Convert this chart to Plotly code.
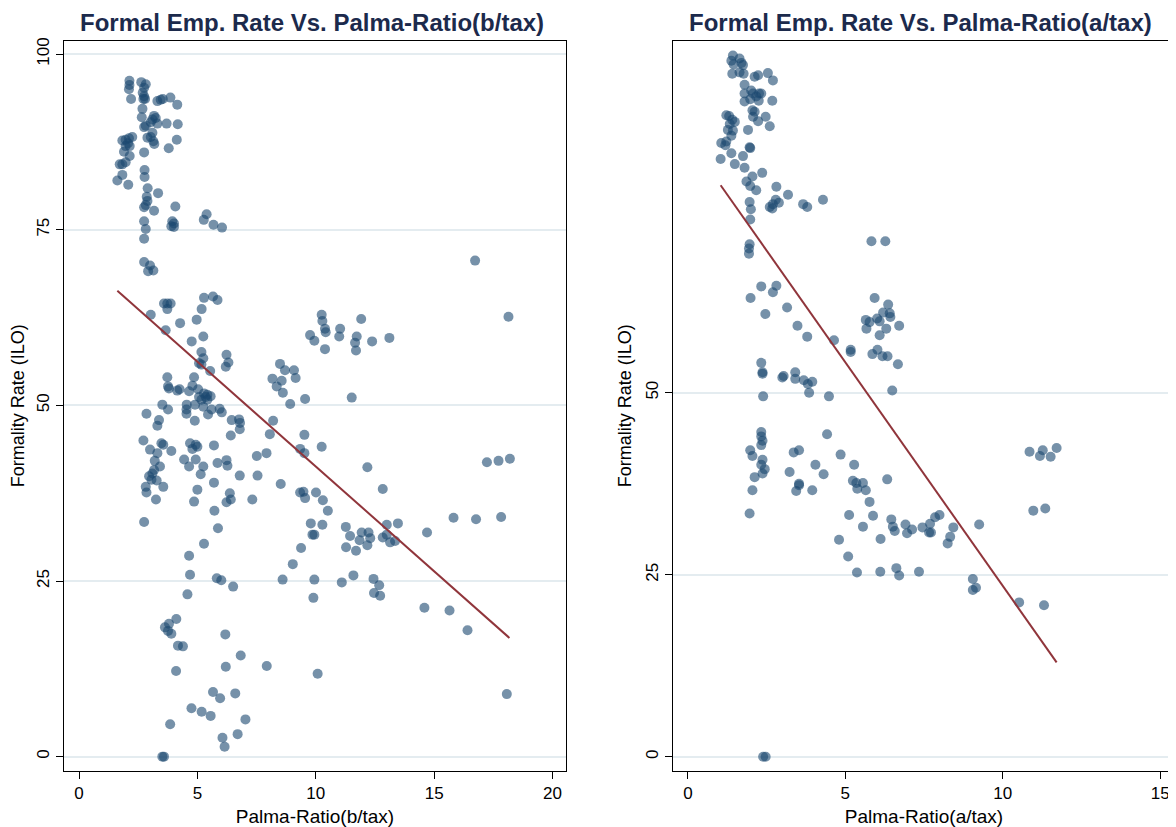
import plotly.graph_objects as go

# ---------------- data ----------------
left_x = [2.13, 2.13, 2.11, 2.20, 2.63, 2.82, 2.75, 2.69, 2.75, 2.79, 2.72, 3.31, 3.45, 3.54, 3.86, 4.15,
          2.68, 2.65, 3.17, 3.24, 3.10, 3.03, 2.82, 2.75, 3.31, 3.70, 4.17, 3.10, 3.03, 2.89, 3.14, 3.18,
          4.13, 3.79, 1.83, 1.97, 2.11, 2.25, 2.07, 2.14, 1.97, 1.90, 2.14, 2.75, 1.72, 1.83, 1.97, 1.83,
          1.62, 2.08, 2.77, 2.77, 2.90, 3.34, 2.86, 2.89, 2.82, 2.75, 3.17, 4.07, 2.75, 2.82, 2.75, 3.94,
          4.01, 3.90, 4.01, 5.39, 5.27, 5.68, 6.04, 2.75, 3.00, 2.92, 3.14,
          3.59, 3.73, 3.87, 3.73, 5.28, 5.66, 5.85, 3.03, 5.18, 4.27, 4.97, 3.66, 4.76, 5.25, 5.17, 5.25,
          5.07, 5.17, 6.23, 6.31, 6.20, 5.54, 3.73, 3.76, 3.80, 4.15, 4.25, 4.86, 4.79, 4.65, 5.03, 5.28,
          5.42, 5.56, 5.07, 5.17, 5.42, 5.35, 3.52, 3.76, 4.55, 4.54, 4.54, 4.90, 5.25, 5.60, 5.94, 6.03,
          5.45, 2.85, 3.38, 3.31, 4.89, 6.45, 6.76, 6.80, 6.79, 6.41, 8.20, 8.06, 2.72, 3.00, 3.48, 3.56,
          3.90, 3.31, 3.20, 3.42, 3.17, 3.10, 2.96, 3.06, 3.28, 2.82, 2.85, 3.56, 3.25, 4.69, 4.79, 4.93,
          5.00, 5.70, 4.44, 4.65, 4.93, 5.25, 5.14, 5.85, 6.23, 6.27, 6.79, 7.54, 7.51, 7.92, 8.52, 5.70,
          5.00, 4.86, 6.37, 6.41, 6.23, 7.32, 5.72, 2.75, 5.87,
          5.28, 4.65, 4.69, 5.82, 6.01, 6.51, 8.60, 4.58, 4.11, 3.80, 3.63, 3.76, 3.90, 4.18, 4.39, 6.18,
          6.83, 6.20, 7.93, 4.10, 5.66, 5.96, 6.60, 4.75, 5.18, 5.56, 3.85, 7.03, 6.06, 6.70, 6.15, 3.52,
          3.59,
          16.73, 18.14, 10.25, 10.28, 10.39, 10.42, 10.39, 9.76, 9.94, 11.92, 11.03, 10.99, 11.73, 11.66,
          11.70, 12.38, 13.11, 8.49, 8.70, 9.08, 9.15, 8.56, 8.61, 8.92, 9.55, 11.52, 9.52, 9.34, 9.52,
          10.25, 12.18, 12.83, 17.23, 17.72, 18.20, 9.34, 9.48, 9.55, 10.01, 10.30, 10.51, 9.79, 10.28,
          11.27, 13.00, 13.47, 15.82, 16.77, 17.83, 8.17, 8.35,
          9.86, 9.94, 11.45, 11.94, 12.23, 12.30, 12.18, 11.85, 11.28, 11.70, 12.83, 13.00, 13.14, 13.35,
          14.70, 9.38, 9.03, 9.94, 11.10, 11.59, 12.44, 12.68, 12.46, 12.72, 9.90, 14.59, 15.65, 16.41,
          10.08, 18.07]
left_y = [96.2, 95.6, 95.0, 93.6, 96.0, 95.7, 95.2, 94.5, 94.0, 93.6, 93.6, 93.3, 93.5, 93.6, 93.8, 92.8,
          92.2, 91.0, 91.2, 90.9, 90.7, 90.3, 89.8, 89.6, 90.1, 90.1, 90.0, 88.8, 88.2, 88.1, 87.6, 87.2,
          87.8, 86.6, 87.7, 87.8, 88.0, 88.2, 87.3, 86.9, 86.9, 86.1, 85.5, 86.0, 84.3, 84.3, 84.6, 82.8,
          82.0, 81.4, 83.5, 82.5, 80.9, 80.2, 79.7, 79.1, 78.5, 78.2, 77.7, 78.3, 76.2, 75.1, 73.7, 76.2,
          75.9, 75.5, 75.4, 77.2, 76.4, 75.7, 75.3, 70.4, 69.9, 69.1, 69.2,
          64.5, 64.5, 64.5, 63.7, 65.3, 65.5, 65.0, 62.9, 63.7, 61.7, 62.2, 60.7, 59.1, 59.8, 57.6, 56.7,
          56.0, 55.8, 57.2, 56.1, 55.5, 54.9, 54.0, 52.7, 52.4, 52.1, 52.3, 54.0, 52.8, 52.0, 52.3, 51.7,
          51.5, 51.3, 51.2, 50.8, 50.8, 51.2, 50.1, 49.4, 50.1, 49.4, 48.8, 50.1, 49.8, 49.4, 49.5, 49.0,
          48.7, 48.8, 47.9, 47.1, 47.8, 47.9, 48.0, 47.5, 46.6, 45.7, 47.8, 45.9, 45.0, 43.7, 44.6, 44.4,
          43.5, 43.2, 42.1, 41.3, 40.8, 40.3, 39.9, 39.4, 39.3, 38.4, 37.6, 38.4, 36.6, 44.6, 43.8, 44.4,
          44.1, 44.3, 42.3, 41.3, 42.3, 41.3, 40.2, 41.8, 42.2, 41.4, 40.0, 40.0, 42.8, 43.2, 38.8, 39.0,
          38.0, 36.3, 37.5, 36.6, 36.2, 36.6, 35.0, 33.4, 32.5,
          30.3, 28.6, 25.9, 25.4, 25.1, 24.2, 25.2, 23.1, 19.6, 18.9, 18.4, 17.9, 17.5, 15.8, 15.7, 17.4,
          14.4, 12.8, 12.9, 12.2, 9.2, 8.3, 9.0, 6.9, 6.4, 5.8, 4.6, 5.3, 2.7, 3.2, 1.4, 0.0,
          0.0,
          70.6, 62.6, 62.9, 62.0, 60.9, 60.4, 58.0, 60.0, 59.2, 62.3, 60.9, 59.8, 59.8, 58.9,
          57.8, 59.1, 59.6, 55.9, 55.0, 55.0, 53.9, 53.5, 51.8, 50.2, 50.9, 51.1, 45.8, 43.8, 43.2,
          44.1, 41.2, 38.1, 41.9, 42.1, 42.4, 37.6, 37.7, 36.8, 37.6, 36.5, 35.0, 33.2, 33.0,
          32.7, 33.0, 33.2, 34.0, 33.8, 34.1, 53.8, 52.7,
          31.6, 31.6, 31.4, 31.9, 31.9, 31.1, 30.1, 30.8, 29.8, 29.3, 31.2, 31.6, 30.5, 30.7,
          31.9, 29.7, 27.4, 25.2, 24.8, 25.8, 25.3, 24.4, 23.3, 22.9, 22.6, 21.2, 20.8, 18.0,
          11.8, 8.9]

right_x = [1.43, 1.38, 1.64, 1.70, 1.45, 1.75, 1.41, 1.64, 1.77, 2.12, 2.23, 2.54, 2.70,
           1.80, 1.80, 2.01, 2.07, 2.26, 2.33, 2.17, 1.98, 1.80, 2.25, 2.68,
           2.05, 2.12, 2.07, 2.23, 2.47, 2.60,
           1.22, 1.31, 1.41, 1.49, 1.33, 1.27, 1.43, 1.38, 1.22, 1.06, 1.19,
           1.91, 1.96, 1.98, 1.38, 1.75, 1.04, 1.49, 1.80,
           2.05, 2.36, 1.86, 1.98, 2.17, 2.81, 3.18, 1.96, 2.00, 1.98,
           2.60, 2.70, 2.79, 2.89, 2.68, 3.66, 3.79, 4.29, 1.96, 1.94, 1.94, 5.83, 6.27,
           2.33, 2.70, 2.81, 1.99, 2.46, 3.15, 3.48, 3.79, 4.64, 5.17, 5.17,
           5.93, 5.65, 5.77, 6.01, 6.09, 6.20, 6.36, 6.41, 6.43, 5.67, 6.30, 6.09, 6.71,
           5.86, 6.02, 6.18, 6.34, 6.67, 2.33, 2.37, 2.37,
           3.00, 3.04, 3.41, 3.41, 3.68, 3.81, 3.95, 3.85, 2.39, 4.48, 6.49,
           2.33, 2.33, 2.37, 2.33, 1.98, 2.05, 2.37, 2.33, 2.44, 2.37, 2.12, 2.05, 1.96,
           4.42, 3.36, 3.53, 4.85, 4.05, 4.31, 3.23, 3.53, 3.53, 3.44, 3.95,
           5.28, 5.24, 5.35, 5.56, 5.38, 5.65, 5.77, 6.33, 5.12, 5.88, 5.56, 4.80, 5.09, 6.12,
           6.46, 6.51, 6.57, 6.91, 6.96, 7.12, 7.45, 5.37, 6.11, 6.62, 6.71, 7.34, 2.39, 2.47,
           7.69, 7.66, 7.72, 7.85, 7.99, 8.43, 8.33, 8.25, 9.25, 9.05, 9.05, 9.15, 10.52, 11.31,
           10.85, 11.27, 11.18, 11.52, 11.71, 10.97, 11.35]
right_y = [96.3, 95.6, 95.9, 95.3, 95.1, 95.0, 93.8, 94.0, 93.8, 93.4, 93.6, 93.9, 92.9,
           92.3, 91.1, 91.5, 91.1, 91.1, 91.1, 90.7, 90.3, 90.0, 90.1, 90.1,
           88.8, 88.6, 87.9, 87.3, 87.9, 86.6,
           88.1, 88.0, 87.5, 87.2, 86.9, 86.1, 86.0, 85.3, 84.5, 84.3, 84.0,
           86.1, 83.7, 83.6, 82.9, 82.5, 82.1, 81.4, 80.9,
           79.7, 80.2, 79.0, 78.4, 77.8, 78.3, 77.2, 76.2, 75.2, 73.8,
           75.5, 75.9, 76.5, 76.1, 75.3, 75.9, 75.5, 76.5, 70.4, 69.8, 69.1, 70.8, 70.8,
           64.6, 63.8, 64.7, 63.0, 60.8, 61.7, 59.2, 57.7, 57.2, 55.9, 55.6,
           63.0, 60.0, 59.7, 60.2, 59.8, 61.0, 62.1, 60.9, 60.4, 58.8, 58.8, 57.9, 59.2,
           55.3, 55.9, 55.0, 55.0, 53.9, 54.1, 52.6, 52.8,
           52.1, 52.3, 52.8, 51.9, 51.7, 51.2, 51.5, 50.0, 49.5, 49.5, 50.3,
           44.6, 44.0, 43.4, 42.8, 42.1, 41.3, 40.8, 40.1, 39.5, 38.9, 38.4, 36.6, 33.4,
           44.3, 41.8, 42.1, 41.5, 40.1, 38.8, 39.1, 37.5, 37.3, 36.5, 36.6,
           40.1, 37.9, 37.6, 37.6, 36.8, 36.6, 35.0, 38.1, 33.2, 33.1, 31.6, 29.8, 27.5, 29.9,
           32.6, 31.6, 31.0, 31.9, 30.7, 31.2, 31.5, 25.3, 25.4, 25.9, 24.9, 25.4, 0.0, 0.0,
           32.0, 30.8, 30.8, 32.9, 33.2, 31.5, 30.2, 29.3, 31.9, 24.4, 22.9, 23.2, 21.2, 20.8,
           41.9, 42.1, 41.3, 41.2, 42.4, 33.8, 34.1]

# fitted lines (end points)
left_fit_x = [1.62, 18.18]
left_fit_y = [66.3, 16.9]
right_fit_x = [1.04, 11.71]
right_fit_y = [78.5, 12.96]

left_xticks = [0, 5, 10, 15, 20]
left_yticks = [0, 25, 50, 75, 100]
right_xticks = [0, 5, 10, 15]
right_yticks = [0, 25, 50]

titles = ["Formal Emp. Rate Vs. Palma-Ratio(b/tax)", "Formal Emp. Rate Vs. Palma-Ratio(a/tax)"]
x_titles = ["Palma-Ratio(b/tax)", "Palma-Ratio(a/tax)"]
y_title = "Formality Rate (ILO)"

# ---------------- styling ----------------
FONT = "Liberation Sans, Arial, Helvetica, sans-serif"
MARKER = dict(color="rgba(26,71,111,0.6)", size=10, line=dict(width=0))
LINE = dict(color="#90353b", width=2)

# the page body adds an 8px margin; the figure is sized so that it ends at the window edge
OFF = 8
WIN_W, WIN_H = 1176, 827
W, H = WIN_W - OFF, WIN_H - OFF


def px_x(p):  # window pixel -> paper fraction
    return (p - OFF) / W


def px_y(p):
    return 1 - (p - OFF) / H


fig = go.Figure()
fig.add_trace(go.Scatter(x=left_x, y=left_y, mode="markers", marker=MARKER,
                         xaxis="x", yaxis="y", showlegend=False, hoverinfo="x+y"))
fig.add_trace(go.Scatter(x=left_fit_x, y=left_fit_y, mode="lines", line=LINE,
                         xaxis="x", yaxis="y", showlegend=False))
fig.add_trace(go.Scatter(x=right_x, y=right_y, mode="markers", marker=MARKER,
                         xaxis="x2", yaxis="y2", showlegend=False, hoverinfo="x+y"))
fig.add_trace(go.Scatter(x=right_fit_x, y=right_fit_y, mode="lines", line=LINE,
                         xaxis="x2", yaxis="y2", showlegend=False))

ydom = [px_y(770.7), px_y(40.7)]
dom1 = [px_x(64), px_x(566)]
dom2 = [px_x(673), px_x(1175)]


def xax(dom, rng, ticks, title, anchor):
    return dict(domain=dom, range=rng, tickmode="array", tickvals=ticks,
                showline=True, linecolor="black", linewidth=1.4, mirror=True,
                ticks="outside", ticklen=7, tickwidth=1.2, tickcolor="black",
                showgrid=False, zeroline=False, anchor=anchor, automargin=False,
                tickfont=dict(size=17, color="black", family=FONT),
                title=dict(text=title, font=dict(size=19, color="black", family=FONT), standoff=7))


def yax(rng, ticks, anchor):
    return dict(domain=ydom, range=rng, tickmode="array", tickvals=ticks, tickangle=-90,
                showline=True, linecolor="black", linewidth=1.4, mirror=True,
                ticks="outside", ticklen=7, tickwidth=1.2, tickcolor="black",
                showgrid=True, gridcolor="#e4ecf0", gridwidth=2,
                zeroline=False, anchor=anchor, automargin=False,
                tickfont=dict(size=17, color="black", family=FONT),
                title=dict(text=y_title, font=dict(size=18, color="black", family=FONT), standoff=6))


fig.update_layout(
    width=W, height=H,
    paper_bgcolor="white", plot_bgcolor="white",
    margin=dict(l=0, r=0, t=0, b=0),
    font=dict(family=FONT, color="black"),
    xaxis=xax(dom1, [-0.634, 20.57], left_xticks, x_titles[0], "y"),
    yaxis=yax([-2.0, 101.9], left_yticks, "x"),
    xaxis2=xax(dom2, [-0.473, 15.47], right_xticks, x_titles[1], "y2"),
    yaxis2=yax([-1.92, 98.35], right_yticks, "x2"),
    annotations=[
        dict(text="<b>%s</b>" % titles[0], x=px_x(312), y=1.0,
             xref="paper", yref="paper", xanchor="center", yanchor="top", showarrow=False,
             borderpad=0, font=dict(size=24, color="#1c2a4c", family=FONT)),
        dict(text="<b>%s</b>" % titles[1], x=px_x(920), y=1.0,
             xref="paper", yref="paper", xanchor="center", yanchor="top", showarrow=False,
             borderpad=0, font=dict(size=24, color="#1c2a4c", family=FONT)),
    ],
)

fig.write_html("out.html")
